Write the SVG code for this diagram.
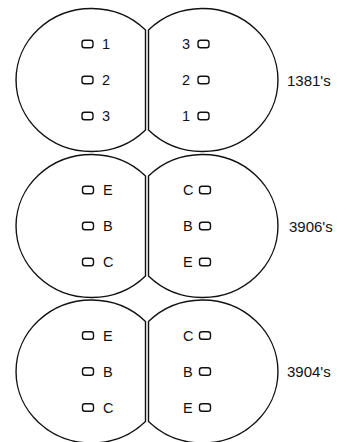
<svg xmlns="http://www.w3.org/2000/svg" width="346" height="442" viewBox="0 0 346 442">
<style>
.sh{fill:none;stroke:#111;stroke-width:1.4}
.pin{fill:none;stroke:#111;stroke-width:1.4}
.t{font-family:"Liberation Sans",Arial,sans-serif;font-size:14.5px;fill:#111}
.lb{font-family:"Liberation Sans",Arial,sans-serif;font-size:15px;fill:#111}
</style>
<rect width="346" height="442" fill="#fff"/>
<defs>
<rect id="o" x="-5.5" y="-3.75" width="11" height="7.5" rx="2.5"/>
</defs>
<g id="block-1381">
<g id="b1-left">
<path class="sh" d="M145.5,30 A75.5,71.5 0 1 0 145.5,130 Z"/>
<use href="#o" class="pin" x="87.5" y="44"/><text class="t" x="102" y="49">1</text>
<use href="#o" class="pin" x="87.5" y="80"/><text class="t" x="102" y="85">2</text>
<use href="#o" class="pin" x="87.5" y="116"/><text class="t" x="102" y="121">3</text>
</g>
<g id="b1-right">
<path class="sh" d="M148.5,30 A75.5,71.5 0 1 1 148.5,130 Z"/>
<text class="t" x="182" y="49">3</text><use href="#o" class="pin" x="203.5" y="44"/>
<text class="t" x="182" y="85">2</text><use href="#o" class="pin" x="203.5" y="80"/>
<text class="t" x="182" y="121">1</text><use href="#o" class="pin" x="203.5" y="116"/>
</g>
<text id="lbl-1381" class="lb" x="287" y="86">1381's</text>
</g>
<g id="block-3906">
<g id="b2-left">
<path class="sh" d="M145.5,176 A75.5,71.5 0 1 0 145.5,276 Z"/>
<use href="#o" class="pin" x="88" y="190"/><text class="t" x="103" y="195">E</text>
<use href="#o" class="pin" x="88" y="226"/><text class="t" x="103" y="231">B</text>
<use href="#o" class="pin" x="88" y="262"/><text class="t" x="103" y="267">C</text>
</g>
<g id="b2-right">
<path class="sh" d="M148.5,176 A75.5,71.5 0 1 1 148.5,276 Z"/>
<text class="t" x="183" y="195">C</text><use href="#o" class="pin" x="205" y="190"/>
<text class="t" x="183" y="231">B</text><use href="#o" class="pin" x="205" y="226"/>
<text class="t" x="183" y="267">E</text><use href="#o" class="pin" x="205" y="262"/>
</g>
<text id="lbl-3906" class="lb" x="289" y="232">3906's</text>
</g>
<g id="block-3904">
<g id="b3-left">
<path class="sh" d="M145.5,321.5 A75.5,71.5 0 1 0 145.5,421.5 Z"/>
<use href="#o" class="pin" x="88" y="335.5"/><text class="t" x="103" y="340.5">E</text>
<use href="#o" class="pin" x="88" y="371.5"/><text class="t" x="103" y="376.5">B</text>
<use href="#o" class="pin" x="88" y="407.5"/><text class="t" x="103" y="412.5">C</text>
</g>
<g id="b3-right">
<path class="sh" d="M148.5,321.5 A75.5,71.5 0 1 1 148.5,421.5 Z"/>
<text class="t" x="183" y="340.5">C</text><use href="#o" class="pin" x="205" y="335.5"/>
<text class="t" x="183" y="376.5">B</text><use href="#o" class="pin" x="205" y="371.5"/>
<text class="t" x="183" y="412.5">E</text><use href="#o" class="pin" x="205" y="407.5"/>
</g>
<text id="lbl-3904" class="lb" x="287" y="377">3904's</text>
</g>
<g id="connectors"/>
</svg>
